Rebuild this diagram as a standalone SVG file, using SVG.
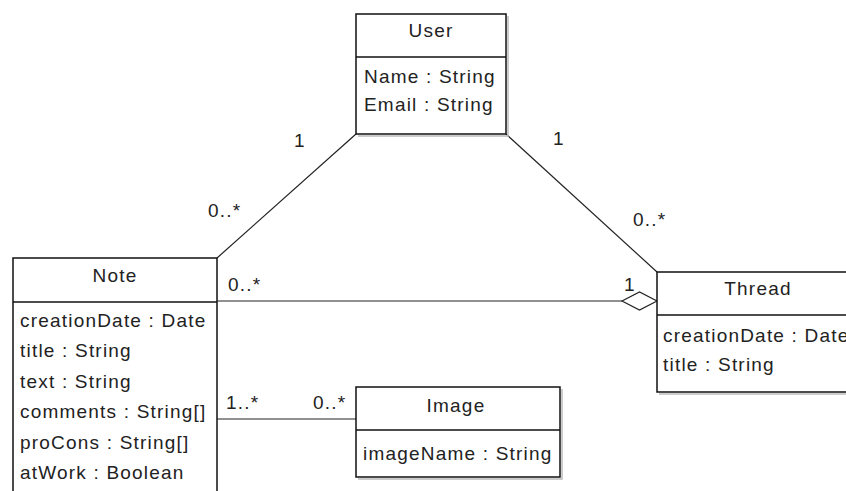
<svg xmlns="http://www.w3.org/2000/svg" width="846" height="491" viewBox="0 0 846 491">
<style>
.box{fill:#fff;stroke:#111;stroke-width:1.5}
.div{stroke:#111;stroke-width:1.3}
.shadow{fill:none;stroke:#bbb;stroke-width:1.5}
.t{font-family:"Liberation Sans",Arial,sans-serif;font-size:19px;letter-spacing:1.2px;fill:#222}
.c{text-anchor:middle}
.edge{fill:none;stroke:#222;stroke-width:1.2}
</style>
<rect width="846" height="491" fill="#fff"/>
<g id="connectors">
<line class="edge" x1="217" y1="258" x2="356" y2="134"/>
<line class="edge" x1="506" y1="134" x2="657" y2="272"/>
<line class="edge" x1="217" y1="301" x2="622" y2="301"/>
<polygon class="edge" points="622,301 639.5,292 657,301 639.5,310" fill="#fff"/>
<line class="edge" x1="217" y1="419" x2="356" y2="419"/>
<text class="t" x="294" y="147">1</text>
<text class="t" x="208" y="217">0..*</text>
<text class="t" x="553" y="145">1</text>
<text class="t" x="633" y="226">0..*</text>
<text class="t" x="228" y="291">0..*</text>
<text class="t" x="624" y="291">1</text>
<text class="t" x="226" y="409">1..*</text>
<text class="t" x="313" y="409">0..*</text>
</g>
<g id="User">
<polyline class="shadow" points="508,16 508,136 358,136"/>
<rect class="box" x="356" y="14" width="150" height="120"/>
<line class="div" x1="356" y1="57" x2="506" y2="57"/>
<text class="t c" x="431" y="37">User</text>
<text class="t" x="364" y="83">Name : String</text>
<text class="t" x="364" y="111">Email : String</text>
</g>
<g id="Note">
<rect class="box" x="13" y="258" width="204" height="250"/>
<line class="div" x1="13" y1="302" x2="217" y2="302"/>
<text class="t c" x="115" y="282">Note</text>
<text class="t" x="20" y="327">creationDate : Date</text>
<text class="t" x="20" y="357">title : String</text>
<text class="t" x="20" y="388">text : String</text>
<text class="t" x="20" y="418">comments : String[]</text>
<text class="t" x="20" y="449">proCons : String[]</text>
<text class="t" x="20" y="479">atWork : Boolean</text>
</g>
<g id="Thread">
<polyline class="shadow" points="659,394 860,394"/>
<rect class="box" x="657" y="272" width="210" height="120"/>
<line class="div" x1="657" y1="315" x2="867" y2="315"/>
<text class="t c" x="758" y="295">Thread</text>
<text class="t" x="663" y="342">creationDate : Date</text>
<text class="t" x="663" y="371">title : String</text>
</g>
<g id="Image">
<polyline class="shadow" points="562,389 562,479 358,479"/>
<rect class="box" x="356" y="387" width="204" height="90"/>
<line class="div" x1="356" y1="430" x2="560" y2="430"/>
<text class="t c" x="456" y="412">Image</text>
<text class="t" x="363" y="460">imageName : String</text>
</g>
</svg>
